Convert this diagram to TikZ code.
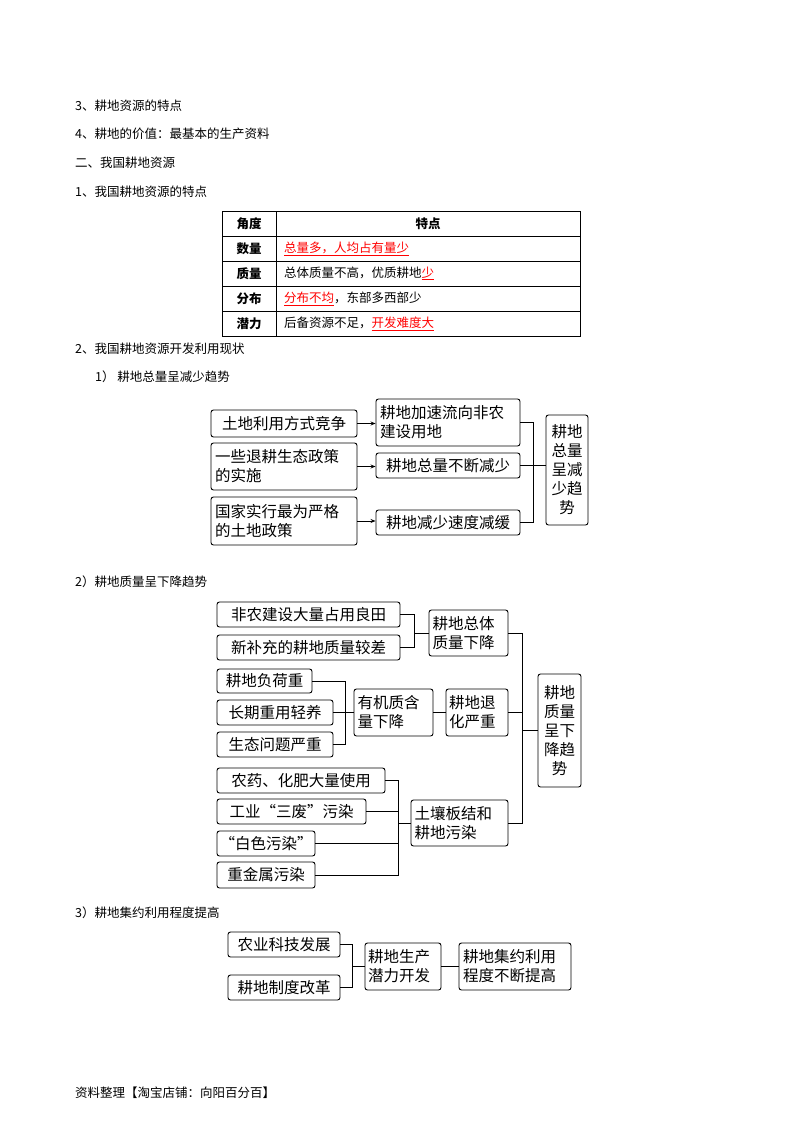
\documentclass[tikz,border=0pt]{standalone}
\usepackage{fontspec}
\setmainfont{Noto Sans CJK SC}
\usetikzlibrary{arrows.meta}
\begin{document}
\begin{tikzpicture}[x=1pt,y=-1pt,
  bx/.style={draw,rounded corners=2.5pt,line width=0.9pt,inner sep=2pt,align=left,font=\fontsize{15.5}{19}\selectfont},
  ln/.style={line width=0.9pt},
  ar/.style={line width=0.9pt,-{Stealth[length=5pt,width=4pt]}},
  tx/.style={anchor=west,inner sep=0pt,font=\fontsize{12.5}{15}\selectfont},
  tb/.style={inner sep=0pt,font=\fontsize{12.5}{15}\selectfont}]
\useasboundingbox (0,0) rectangle (800,1132);
\node[tx] (t1) at (75,106) {3、耕地资源的特点};
\node[tx] (t2) at (75,134) {4、耕地的价值：最基本的生产资料};
\node[tx] (t3) at (75,163) {二、我国耕地资源};
\node[tx] (t4) at (75,192) {1、我国耕地资源的特点};
% table
\draw[line width=0.8pt] (222,211) rectangle (580,336);
\foreach \y in {236,261,286,311} \draw[line width=0.8pt] (222,\y) -- (580,\y);
\draw[line width=0.8pt] (276,211) -- (276,336);
\node[tb,font=\fontsize{12.5}{15}\bfseries\selectfont] (h1) at (249,223.5) {\textbf{角度}};
\node[tb] (h2) at (428,223.5) {\textbf{特点}};
\node[tb] (r1) at (249,248.5) {\textbf{数量}};
\node[tb] (r2) at (249,273.5) {\textbf{质量}};
\node[tb] (r3) at (249,298.5) {\textbf{分布}};
\node[tb] (r4) at (249,323.5) {\textbf{潜力}};
\node[tx] (c1) at (284,248.5) {\color{red}\underline{总量多，人均占有量少}};
\node[tx] (c2) at (284,273.5) {总体质量不高，优质耕地\color{red}\underline{少}};
\node[tx] (c3) at (284,298.5) {{\color{red}\underline{分布不均}}，东部多西部少};
\node[tx] (c4) at (284,323.5) {后备资源不足，{\color{red}\underline{开发难度大}}};
\node[tx] (t5) at (75,349) {2、我国耕地资源开发利用现状};
\node[tx] (t6) at (95,377) {1）\ 耕地总量呈减少趋势};
% diagram 1
\node[bx,minimum width=146,minimum height=27] (a1) at (284,423.5) {土地利用方式竞争};
\node[bx,minimum width=146,minimum height=47,text width=138] (a2) at (284,466.5) {一些退耕生态政策\\的实施};
\node[bx,minimum width=146,minimum height=48,text width=138] (a3) at (284,521) {国家实行最为严格\\的土地政策};
\node[bx,minimum width=144,minimum height=47,text width=136] (b1) at (448,422.5) {耕地加速流向非农\\建设用地};
\node[bx,minimum width=144,minimum height=25] (b2) at (448,465.5) {耕地总量不断减少};
\node[bx,minimum width=144,minimum height=25] (b3) at (448,522.5) {耕地减少速度减缓};
\node[bx,minimum width=42,minimum height=110,align=center] (c) at (567,470) {耕地\\总量\\呈减\\少趋\\势};
\draw[ar] (a1.east) -- (a1.east -| b1.west);
\draw[ar] (a2.east) -- (a2.east -| b2.west);
\draw[ar] (a3.east) -- (a3.east -| b3.west);
\coordinate (j1) at (533,465.5);
\draw[ln] (b1.east) -| (j1);
\draw[ln] (b3.east) -| (j1);
\draw[ln] (b2.east) -- (j1) -- (j1 -| c.west);
\node[tx] (t7) at (75,582) {2）耕地质量呈下降趋势};
% diagram 2
\node[bx,minimum width=183,minimum height=25] (d1) at (308.5,614.5) {非农建设大量占用良田};
\node[bx,minimum width=183,minimum height=25] (d2) at (308.5,647.5) {新补充的耕地质量较差};
\node[bx,minimum width=79,minimum height=46,text width=72] (e1) at (468.5,633) {耕地总体\\质量下降};
\coordinate (j2) at (414,633);
\draw[ln] (d1.east) -| (j2);
\draw[ln] (d2.east) -| (j2);
\draw[ln] (j2) -- (e1.west);
\node[bx,minimum width=95,minimum height=24] (f1) at (264.5,681) {耕地负荷重};
\node[bx,minimum width=116,minimum height=25] (f2) at (275,712.5) {长期重用轻养};
\node[bx,minimum width=116,minimum height=25] (f3) at (275,744.5) {生态问题严重};
\node[bx,minimum width=79,minimum height=47,text width=72] (g) at (393.5,712.5) {有机质含\\量下降};
\node[bx,minimum width=62,minimum height=47,text width=56] (h) at (477,712.5) {耕地退\\化严重};
\coordinate (j3) at (345,712.5);
\draw[ln] (f1.east) -| (j3);
\draw[ln] (f3.east) -| (j3);
\draw[ln] (f2.east) -- (j3) -- (g.west);
\draw[ln] (g.east) -- (h.west);
\node[bx,minimum width=168,minimum height=25] (i1) at (301,780.5) {农药、化肥大量使用};
\node[bx,minimum width=149,minimum height=25] (i2) at (291.5,811.5) {工业“三废”污染};
\node[bx,minimum width=98,minimum height=25] (i3) at (266,843.5) {“白色污染”};
\node[bx,minimum width=98,minimum height=26] (i4) at (266,875) {重金属污染};
\node[bx,minimum width=97,minimum height=46,text width=90] (jj) at (459.5,823) {土壤板结和\\耕地污染};
\coordinate (j4) at (398,823);
\draw[ln] (i1.east) -| (i4.east -| j4) -- (i4.east);
\draw[ln] (i2.east) -- (i2.east -| j4);
\draw[ln] (i3.east) -- (i3.east -| j4);
\draw[ln] (j4) -- (jj.west);
\node[bx,minimum width=43,minimum height=113,align=center] (k) at (559.5,730.5) {耕地\\质量\\呈下\\降趋\\势};
\coordinate (j5) at (522,730.5);
\draw[ln] (e1.east) -| (j5);
\draw[ln] (jj.east) -| (j5);
\draw[ln] (h.east) -- (h.east -| j5);
\draw[ln] (j5) -- (k.west);
\node[tx] (t8) at (75,913) {3）耕地集约利用程度提高};
% diagram 3
\node[bx,minimum width=112,minimum height=25] (l1) at (284,944.5) {农业科技发展};
\node[bx,minimum width=112,minimum height=25] (l2) at (284,987.5) {耕地制度改革};
\node[bx,minimum width=76,minimum height=47,text width=70] (m) at (403,966.5) {耕地生产\\潜力开发};
\node[bx,minimum width=112,minimum height=47,text width=104] (n) at (515,966.5) {耕地集约利用\\程度不断提高};
\coordinate (j6) at (352,966.5);
\draw[ln] (l1.east) -| (j6);
\draw[ln] (l2.east) -| (j6);
\draw[ln] (j6) -- (m.west);
\draw[ln] (m.east) -- (n.west);
\node[tx] (ft) at (75,1093) {资料整理【淘宝店铺：向阳百分百】};
\end{tikzpicture}
\end{document}
